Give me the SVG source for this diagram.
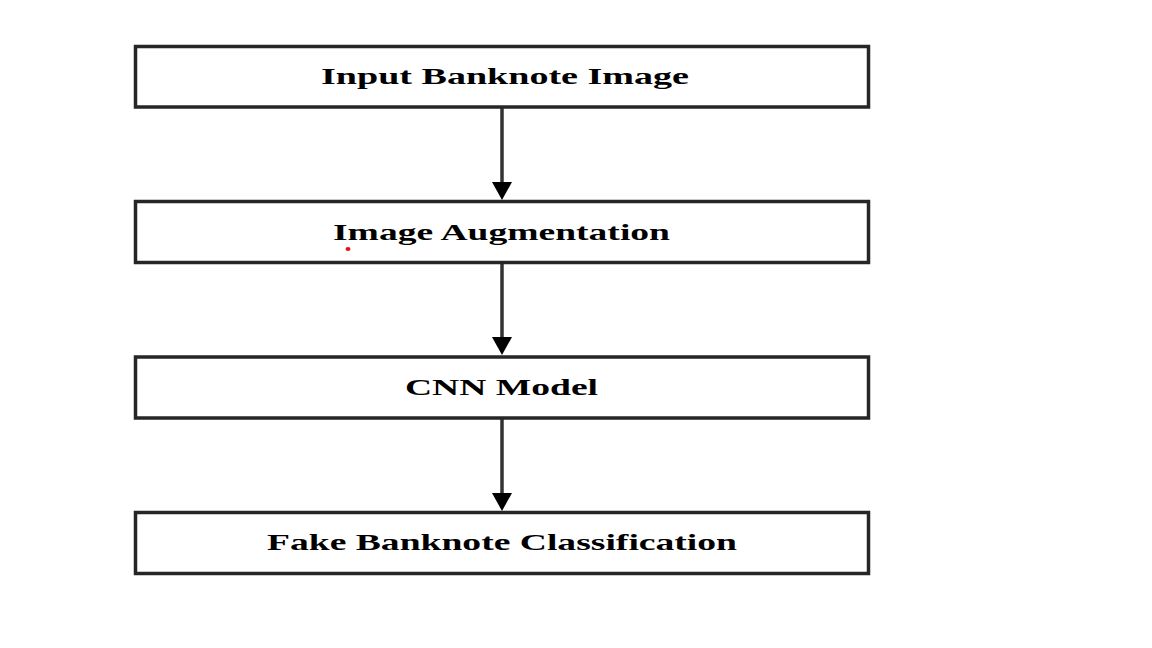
<svg xmlns="http://www.w3.org/2000/svg" width="1152" height="648" viewBox="0 0 1152 648">
<style>
.box{fill:#ffffff;stroke:#262626;stroke-width:3.5}
.lbl{font-family:"Liberation Serif","Times New Roman",serif;font-weight:bold;font-size:24px;fill:#000;text-anchor:middle}
.conn{stroke:#333;stroke-width:3.5;fill:none}
.head{fill:#000}
</style>
<defs>
<marker id="arr" viewBox="0 0 20 18" refX="10" refY="18" markerWidth="20" markerHeight="18" markerUnits="userSpaceOnUse" orient="auto-start-reverse">
<path d="M0,0 L20,0 L10,18 Z" class="head"/>
</marker>
</defs>
<rect width="1152" height="648" fill="#ffffff"/>
<g id="connectors">
<line class="conn" x1="502" y1="108" x2="502" y2="183"/>
<path class="head" d="M492,182 L512,182 L502,200 Z"/>
<line class="conn" x1="502" y1="264" x2="502" y2="338"/>
<path class="head" d="M492,337 L512,337 L502,355 Z"/>
<line class="conn" x1="502" y1="419" x2="502" y2="494"/>
<path class="head" d="M492,493 L512,493 L502,511 Z"/>
</g>
<g id="node1">
<rect class="box" x="135.5" y="46.5" width="733" height="60.5"/>
<text class="lbl" x="505" y="83.5" textLength="368" lengthAdjust="spacingAndGlyphs">Input Banknote Image</text>
</g>
<g id="node2">
<rect class="box" x="135.5" y="201.5" width="733" height="61"/>
<text class="lbl" x="501.5" y="239.5" textLength="337" lengthAdjust="spacingAndGlyphs">Image Augmentation</text>
<ellipse cx="348" cy="249" rx="2.5" ry="2" fill="#e81010"/>
</g>
<g id="node3">
<rect class="box" x="135.5" y="357" width="733" height="61"/>
<text class="lbl" x="501.5" y="395" textLength="193" lengthAdjust="spacingAndGlyphs">CNN Model</text>
</g>
<g id="node4">
<rect class="box" x="135.5" y="512.5" width="733" height="61"/>
<text class="lbl" x="502" y="549.5" textLength="470" lengthAdjust="spacingAndGlyphs">Fake Banknote Classification</text>
</g>
</svg>
